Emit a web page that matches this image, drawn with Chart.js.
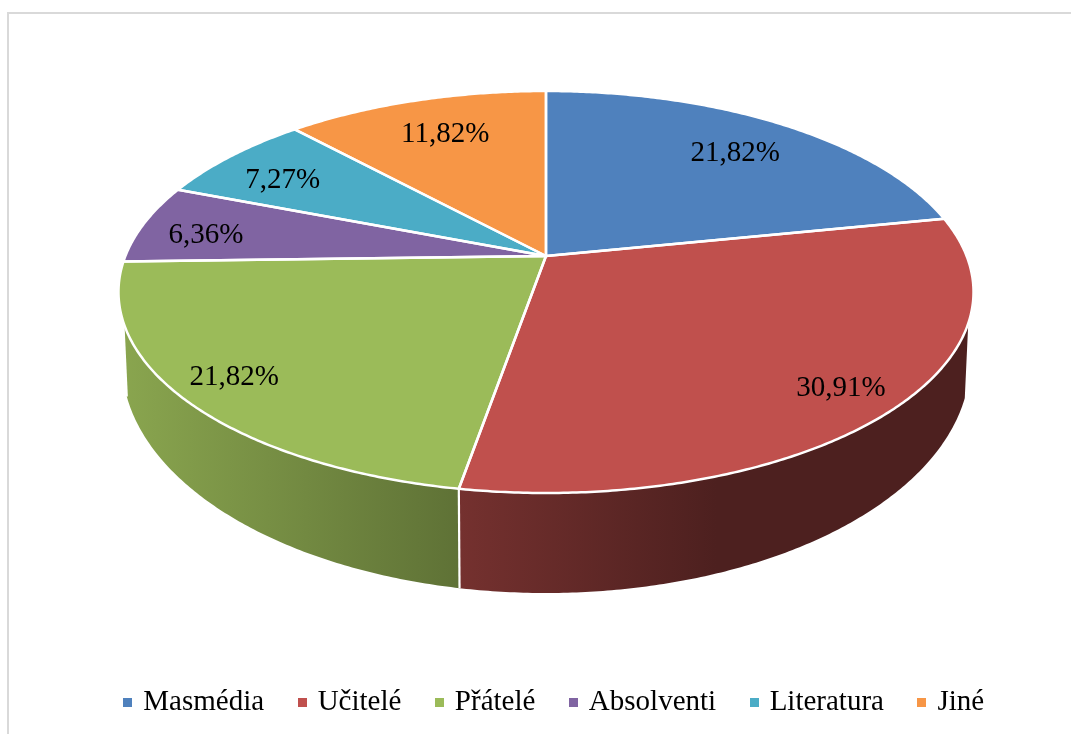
<!DOCTYPE html>
<html><head><meta charset="utf-8">
<style>html,body{margin:0;padding:0;background:#fff}#w{width:1071px;height:734px;position:relative}</style>
<script src="https://cdn.jsdelivr.net/npm/chart.js@4/dist/chart.umd.min.js"></script>
</head><body><div id="w"><canvas id="c" width="1071" height="734"></canvas></div>
<script>
const categories = ['Masmédia','Učitelé','Přátelé','Absolventi','Literatura','Jiné'];
const shares = [21.82,30.91,21.82,6.36,7.27,11.82];
const valueLabels = ['21,82%','30,91%','21,82%','6,36%','7,27%','11,82%'];
const colors = ['#4f81bd','#c0504d','#9bbb59','#8064a2','#4bacc6','#f79646'];
const FONT = '"Liberation Serif"';

// label placement inside each slice: radial fraction, angular nudge (degrees)
const labelRadial = [0.78,0.865,0.866,0.835,0.80,0.77];
const labelNudge = [0.4,-0.6,1.4,-1.5,-1.8,0.7];

// perspective of the top face
const G = {cx:546, apexY:256, a:420.6, p:148.7, d:-0.1791,
           lowRx:424, lowCy:362, lowRy:231, wallMinY:322};
function proj(ang, r){
  const u=Math.cos(ang)*r, v=Math.sin(ang)*r, w=1+G.d*v;
  return {x:G.cx+G.a*u/w, y:(G.p*v+G.apexY)/w};
}
function lower(pt){
  const dx=(pt.x-G.cx)*G.lowRx/427.5;
  const s=Math.sqrt(Math.max(0,1-(dx/G.lowRx)*(dx/G.lowRx)));
  return {x:G.cx+dx, y:G.lowCy+G.lowRy*s};
}
function shade(hex,f){
  const n=parseInt(hex.slice(1),16);
  return `rgb(${Math.round((n>>16&255)*f)},${Math.round((n>>8&255)*f)},${Math.round((n&255)*f)})`;
}
function facePath(c,el){
  const ap=proj(0,0), step=Math.PI/360;
  c.beginPath(); c.moveTo(ap.x,ap.y);
  for(let a=el.startAngle;a<el.endAngle;a+=step){const p=proj(a,1);c.lineTo(p.x,p.y);}
  const e=proj(el.endAngle,1); c.lineTo(e.x,e.y); c.closePath();
}
const pie3d = {
  id:'pie3d',
  beforeDraw(chart){
    const c=chart.ctx; c.save(); c.fillStyle='#d9d9d9';
    c.fillRect(7,12,1064,2); c.fillRect(7,12,2,722); c.restore();
  },
  beforeDatasetDraw(chart){
    const c=chart.ctx, arcs=chart.getDatasetMeta(0).data, step=Math.PI/360;
    c.save(); c.lineJoin='round';
    const vis=(a)=>proj(a,1).y>=G.wallMinY && Math.sin(a)>0;
    const seams=[];
    arcs.forEach((el,i)=>{
      const pts=[];
      for(let a=el.startAngle;a<el.endAngle;a+=step){ if(vis(a)) pts.push(a); }
      if(vis(el.endAngle)) pts.push(el.endAngle);
      if(pts.length<2) return;
      const top=pts.map(a=>proj(a,1)), low=top.map(lower);
      seams.push([top[top.length-1],low[low.length-1]]);
      const g=c.createLinearGradient(118,0,973,0);
      [[0,.89],[.396,.61],[.70,.40],[1,.40]].forEach(s=>g.addColorStop(s[0],shade(colors[i],s[1])));
      c.beginPath();
      top.forEach((p,k)=>k?c.lineTo(p.x,p.y):c.moveTo(p.x,p.y));
      low.reverse().forEach(p=>c.lineTo(p.x,p.y));
      c.closePath();
      c.fillStyle=g; c.fill();
    });
    c.strokeStyle='#fff'; c.lineWidth=2.2;
    seams.forEach(s=>{c.beginPath();c.moveTo(s[0].x,s[0].y);c.lineTo(s[1].x,s[1].y);c.stroke();});
    // top face
    arcs.forEach((el,i)=>{facePath(c,el); c.fillStyle=colors[i]; c.fill();});
    arcs.forEach(el=>{facePath(c,el); c.strokeStyle='#fff'; c.lineWidth=2.5; c.stroke();});
    // value labels
    c.fillStyle='#000'; c.font='29px '+FONT; c.textAlign='center'; c.textBaseline='middle';
    arcs.forEach((el,i)=>{
      const mid=(el.startAngle+el.endAngle)/2+labelNudge[i]*Math.PI/180;
      const p=proj(mid,labelRadial[i]);
      c.fillText(valueLabels[i],p.x,p.y+2.5);
    });
    c.restore();
    return false;
  }
};
function swatch(col){
  const s=document.createElement('canvas'); s.width=9; s.height=9;
  const x=s.getContext('2d'); x.fillStyle=col; x.fillRect(0,0,9,9); return s;
}
new Chart(document.getElementById('c'),{
  type:'pie',
  data:{labels:categories,datasets:[{data:shares,backgroundColor:colors,borderColor:'#fff',borderWidth:2}]},
  options:{
    responsive:false,animation:false,
    layout:{padding:{bottom:7,left:40}},
    plugins:{
      tooltip:{enabled:false},
      legend:{
        position:'bottom',
        labels:{
          color:'#000',font:{family:FONT,size:29},padding:37,
          usePointStyle:true,pointStyleWidth:2,boxHeight:9,
          generateLabels:()=>categories.map((t,i)=>({text:t,fillStyle:colors[i],strokeStyle:colors[i],lineWidth:0,hidden:false,index:i,pointStyle:swatch(colors[i])}))
        }
      }
    }
  },
  plugins:[pie3d]
});
</script></body></html>
